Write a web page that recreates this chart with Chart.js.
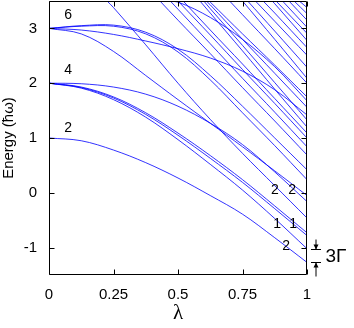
<!DOCTYPE html>
<html>
<head>
<meta charset="utf-8">
<script src="https://cdn.jsdelivr.net/npm/chart.js@4.4.1/dist/chart.umd.min.js"></script>
<style>
  html, body { margin: 0; padding: 0; background: #fff; }
  #wrap { width: 354px; height: 328px; }
</style>
</head>
<body>
<div id="wrap"><canvas id="levels" width="354" height="328"></canvas></div>
<script>
const LAMBDA = [0, 0.125, 0.25, 0.375, 0.5, 0.625, 0.75, 0.875, 1];
const E_MIN = -1.5;
const E_MAX = 3.5;

// levels that start inside the window (E = 1, 2, 3 at lambda = 0)
const E1_PAIR   = [1.00, 0.95, 0.78, 0.55, 0.27, -0.05, -0.39, -0.82, -1.27];
const E2_LOW    = [2.00, 1.91, 1.70, 1.38, 0.97, 0.52, 0.05, -0.47, -1.02];
const E2_MID    = [2.00, 1.92, 1.73, 1.43, 1.05, 0.63, 0.19, -0.29, -0.78];
const E2_MID2   = [2.00, 1.93, 1.75, 1.46, 1.09, 0.68, 0.24, -0.24, -0.73];
const E2_FLAT   = [2.00, 1.99, 1.93, 1.80, 1.58, 1.27, 0.88, 0.38, -0.16];
const E3_UP_A   = [3.00, 3.05, 3.06, 2.93, 2.62, 2.14, 1.58, 1.00, 0.42];
const E3_UP_B   = [3.00, 3.04, 3.04, 2.90, 2.57, 2.06, 1.46, 0.86, 0.24];
const E3_FLAT   = [3.00, 2.97, 2.89, 2.77, 2.63, 2.46, 2.22, 1.88, 1.42];
const E3_LOW    = [3.00, 2.90, 2.58, 2.14, 1.70, 1.27, 0.84, 0.40, -0.05];
const E4_LOW    = [null, null, 3.38, 2.70, 2.00, 1.34, 0.72, 0.13, -0.46];

// levels coming in through the top edge: values after they enter
const E4_BEND   = [null, null, null, null, 3.48, 3.20, 2.80, 2.30, 1.68];
const TOP_01    = [null, null, null, null, 3.15, 2.54, 1.92, 1.31, 0.69];
const TOP_02    = [null, null, null, null, 3.35, 2.72, 2.09, 1.47, 0.84];
const TOP_03    = [null, null, null, null, null, 2.88, 2.25, 1.63, 1.00];
const TOP_04    = [null, null, null, null, null, 2.97, 2.35, 1.72, 1.09];
const TOP_05    = [null, null, null, null, null, 3.28, 2.59, 1.89, 1.20];
const TOP_06    = [null, null, null, null, null, 3.36, 2.69, 2.01, 1.33];
const TOP_07    = [null, null, null, null, null, 3.43, 2.80, 2.18, 1.56];
const TOP_08    = [null, null, null, null, null, 3.48, 2.90, 2.33, 1.75];
const TOP_09    = [null, null, null, null, null, null, 3.25, 2.63, 2.00];
const TOP_10    = [null, null, null, null, null, null, null, 2.80, 2.09];
const TOP_11    = [null, null, null, null, null, null, null, 2.95, 2.29];
const TOP_12    = [null, null, null, null, null, null, null, 3.13, 2.51];
const TOP_13    = [null, null, null, null, null, null, null, 3.28, 2.65];
const TOP_14    = [null, null, null, null, null, null, null, 3.45, 2.78];
const TOP_15    = [null, null, null, null, null, null, null, null, 2.91];
const TOP_16    = [null, null, null, null, null, null, null, null, 3.02];
const TOP_17    = [null, null, null, null, null, null, null, null, 3.15];
const TOP_18    = [null, null, null, null, null, null, null, null, 3.27];
const TOP_19    = [null, null, null, null, null, null, null, null, 3.38];

const LEVELS = [E1_PAIR, E2_LOW, E2_MID, E2_MID2, E2_FLAT, E3_UP_A, E3_UP_B, E3_FLAT, E3_LOW,
  E4_LOW, E4_BEND, TOP_01, TOP_02, TOP_03, TOP_04, TOP_05, TOP_06, TOP_07, TOP_08, TOP_09,
  TOP_10, TOP_11, TOP_12, TOP_13, TOP_14, TOP_15, TOP_16, TOP_17, TOP_18, TOP_19];
// lambda where each level crosses the top edge (null = starts inside the window)
const TOP_ENTRY = [null, null, null, null, null, null, null, null, null,
  0.225, 0.45, 0.43, 0.47, 0.50, 0.52, 0.585, 0.60, 0.61, 0.62, 0.70,
  0.75, 0.77, 0.80, 0.83, 0.865, 0.88, 0.905, 0.93, 0.95, 0.97];

const X_TICKS = [0, 0.25, 0.5, 0.75, 1];
const X_TICK_LABELS = ['0', '0.25', '0.5', '0.75', '1'];
const Y_TICKS = [-1, 0, 1, 2, 3];
const Y_TICK_LABELS = ['-1', '0', '1', '2', '3'];

// degeneracy numbers written next to the levels
const DEGENERACY_TEXT = ['6', '4', '2', '2', '2', '1', '1', '2'];
const DEGENERACY_LAMBDA = [0.074, 0.074, 0.074, 0.876, 0.942, 0.884, 0.946, 0.919];
const DEGENERACY_ENERGY = [3.24, 2.24, 1.18, 0.055, 0.055, -0.58, -0.58, -0.98];

const LINE_BLUE = 'rgba(0,0,255,0.8)';
const FONT = '"Liberation Sans", Arial, sans-serif';

function toPoints(values, entry) {
  const pts = [];
  if (entry !== null) pts.push({ x: entry, y: E_MAX });
  values.forEach((v, i) => { if (v !== null) pts.push({ x: LAMBDA[i], y: v }); });
  return pts;
}

// frame with inward ticks on all four sides, degeneracy labels and the 3Γ marker
const annotationsPlugin = {
  id: 'annotations',
  afterDraw(chart) {
    const { ctx, chartArea: a, scales: { x, y } } = chart;
    const L = Math.round(a.left) + 0.5, R = Math.round(a.right) - 0.5;
    const T = Math.round(a.top) + 0.5, B = Math.round(a.bottom) - 0.5;
    ctx.save();
    ctx.strokeStyle = '#000';
    ctx.fillStyle = '#000';
    ctx.lineWidth = 1;

    X_TICKS.forEach(v => {
      const px = Math.round(x.getPixelForValue(v)) + 0.5;
      ctx.beginPath(); ctx.moveTo(px, B); ctx.lineTo(px, B - 5); ctx.stroke();
      ctx.beginPath(); ctx.moveTo(px, T); ctx.lineTo(px, T + 5); ctx.stroke();
    });
    Y_TICKS.forEach(v => {
      const py = Math.round(y.getPixelForValue(v)) + 0.5;
      ctx.beginPath(); ctx.moveTo(L, py); ctx.lineTo(L + 5, py); ctx.stroke();
      ctx.beginPath(); ctx.moveTo(R, py); ctx.lineTo(R - 5, py); ctx.stroke();
    });
    ctx.beginPath();
    ctx.rect(L, T, R - L, B - T);
    ctx.stroke();

    ctx.font = '14px ' + FONT;
    ctx.textAlign = 'center';
    ctx.textBaseline = 'middle';
    DEGENERACY_TEXT.forEach((t, i) => {
      ctx.fillText(t, x.getPixelForValue(DEGENERACY_LAMBDA[i]), y.getPixelForValue(DEGENERACY_ENERGY[i]));
    });

    const yTop = Math.round(y.getPixelForValue(E2_LOW[E2_LOW.length - 1])) + 0.5;
    const yBot = Math.round(y.getPixelForValue(E1_PAIR[E1_PAIR.length - 1])) + 0.5;
    const ax = R + 9.5;
    ctx.beginPath();
    ctx.moveTo(ax - 5, yTop); ctx.lineTo(ax + 5, yTop);
    ctx.moveTo(ax - 5, yBot); ctx.lineTo(ax + 5, yBot);
    ctx.moveTo(ax, yTop - 10); ctx.lineTo(ax, yTop);
    ctx.moveTo(ax, yBot + 14); ctx.lineTo(ax, yBot);
    ctx.stroke();
    ctx.beginPath();
    ctx.moveTo(ax, yTop); ctx.lineTo(ax - 2.5, yTop - 5); ctx.lineTo(ax + 2.5, yTop - 5); ctx.closePath();
    ctx.fill();
    ctx.beginPath();
    ctx.moveTo(ax, yBot); ctx.lineTo(ax - 2.5, yBot + 5); ctx.lineTo(ax + 2.5, yBot + 5); ctx.closePath();
    ctx.fill();
    ctx.font = '19px ' + FONT;
    ctx.textAlign = 'left';
    ctx.fillText('3Γ', R + 19, (yTop + yBot) / 2 + 1);
    ctx.restore();
  }
};

new Chart(document.getElementById('levels'), {
  type: 'line',
  data: {
    datasets: LEVELS.map((values, i) => ({
      data: toPoints(values, TOP_ENTRY[i]),
      borderColor: LINE_BLUE,
      backgroundColor: LINE_BLUE,
      borderWidth: 1,
      pointRadius: 0,
      fill: false,
      tension: 0.35
    }))
  },
  options: {
    responsive: false,
    animation: false,
    devicePixelRatio: 1,
    layout: { padding: { top: 1, right: 47, bottom: 0, left: 0 } },
    plugins: { legend: { display: false }, tooltip: { enabled: false } },
    scales: {
      x: {
        type: 'linear',
        min: 0,
        max: 1,
        afterBuildTicks: scale => { scale.ticks = X_TICKS.map(v => ({ value: v })); },
        afterFit: scale => { scale.height = 53; scale.paddingLeft = 0; scale.paddingRight = 0; },
        grid: { display: false, drawTicks: false },
        border: { display: false },
        ticks: {
          padding: 11, color: '#000',
          font: { family: FONT, size: 15 },
          callback: v => X_TICK_LABELS[X_TICKS.indexOf(v)]
        },
        title: {
          display: true, text: 'λ', color: '#000', padding: { top: 0, bottom: 2 },
          font: { family: '"Liberation Serif", serif', size: 21 }
        }
      },
      y: {
        type: 'linear',
        min: E_MIN,
        max: E_MAX,
        afterBuildTicks: scale => { scale.ticks = Y_TICKS.map(v => ({ value: v })); },
        afterFit: scale => { scale.width = 49; scale.paddingTop = 0; scale.paddingBottom = 0; },
        grid: { display: false, drawTicks: false },
        border: { display: false },
        ticks: {
          padding: 12, color: '#000',
          font: { family: FONT, size: 15 },
          callback: v => Y_TICK_LABELS[Y_TICKS.indexOf(v)]
        },
        title: {
          display: true, text: 'Energy (ħω)', color: '#000', padding: { top: 0, bottom: 0 },
          font: { family: FONT, size: 15 }
        }
      }
    }
  },
  plugins: [annotationsPlugin]
});
</script>
</body>
</html>
